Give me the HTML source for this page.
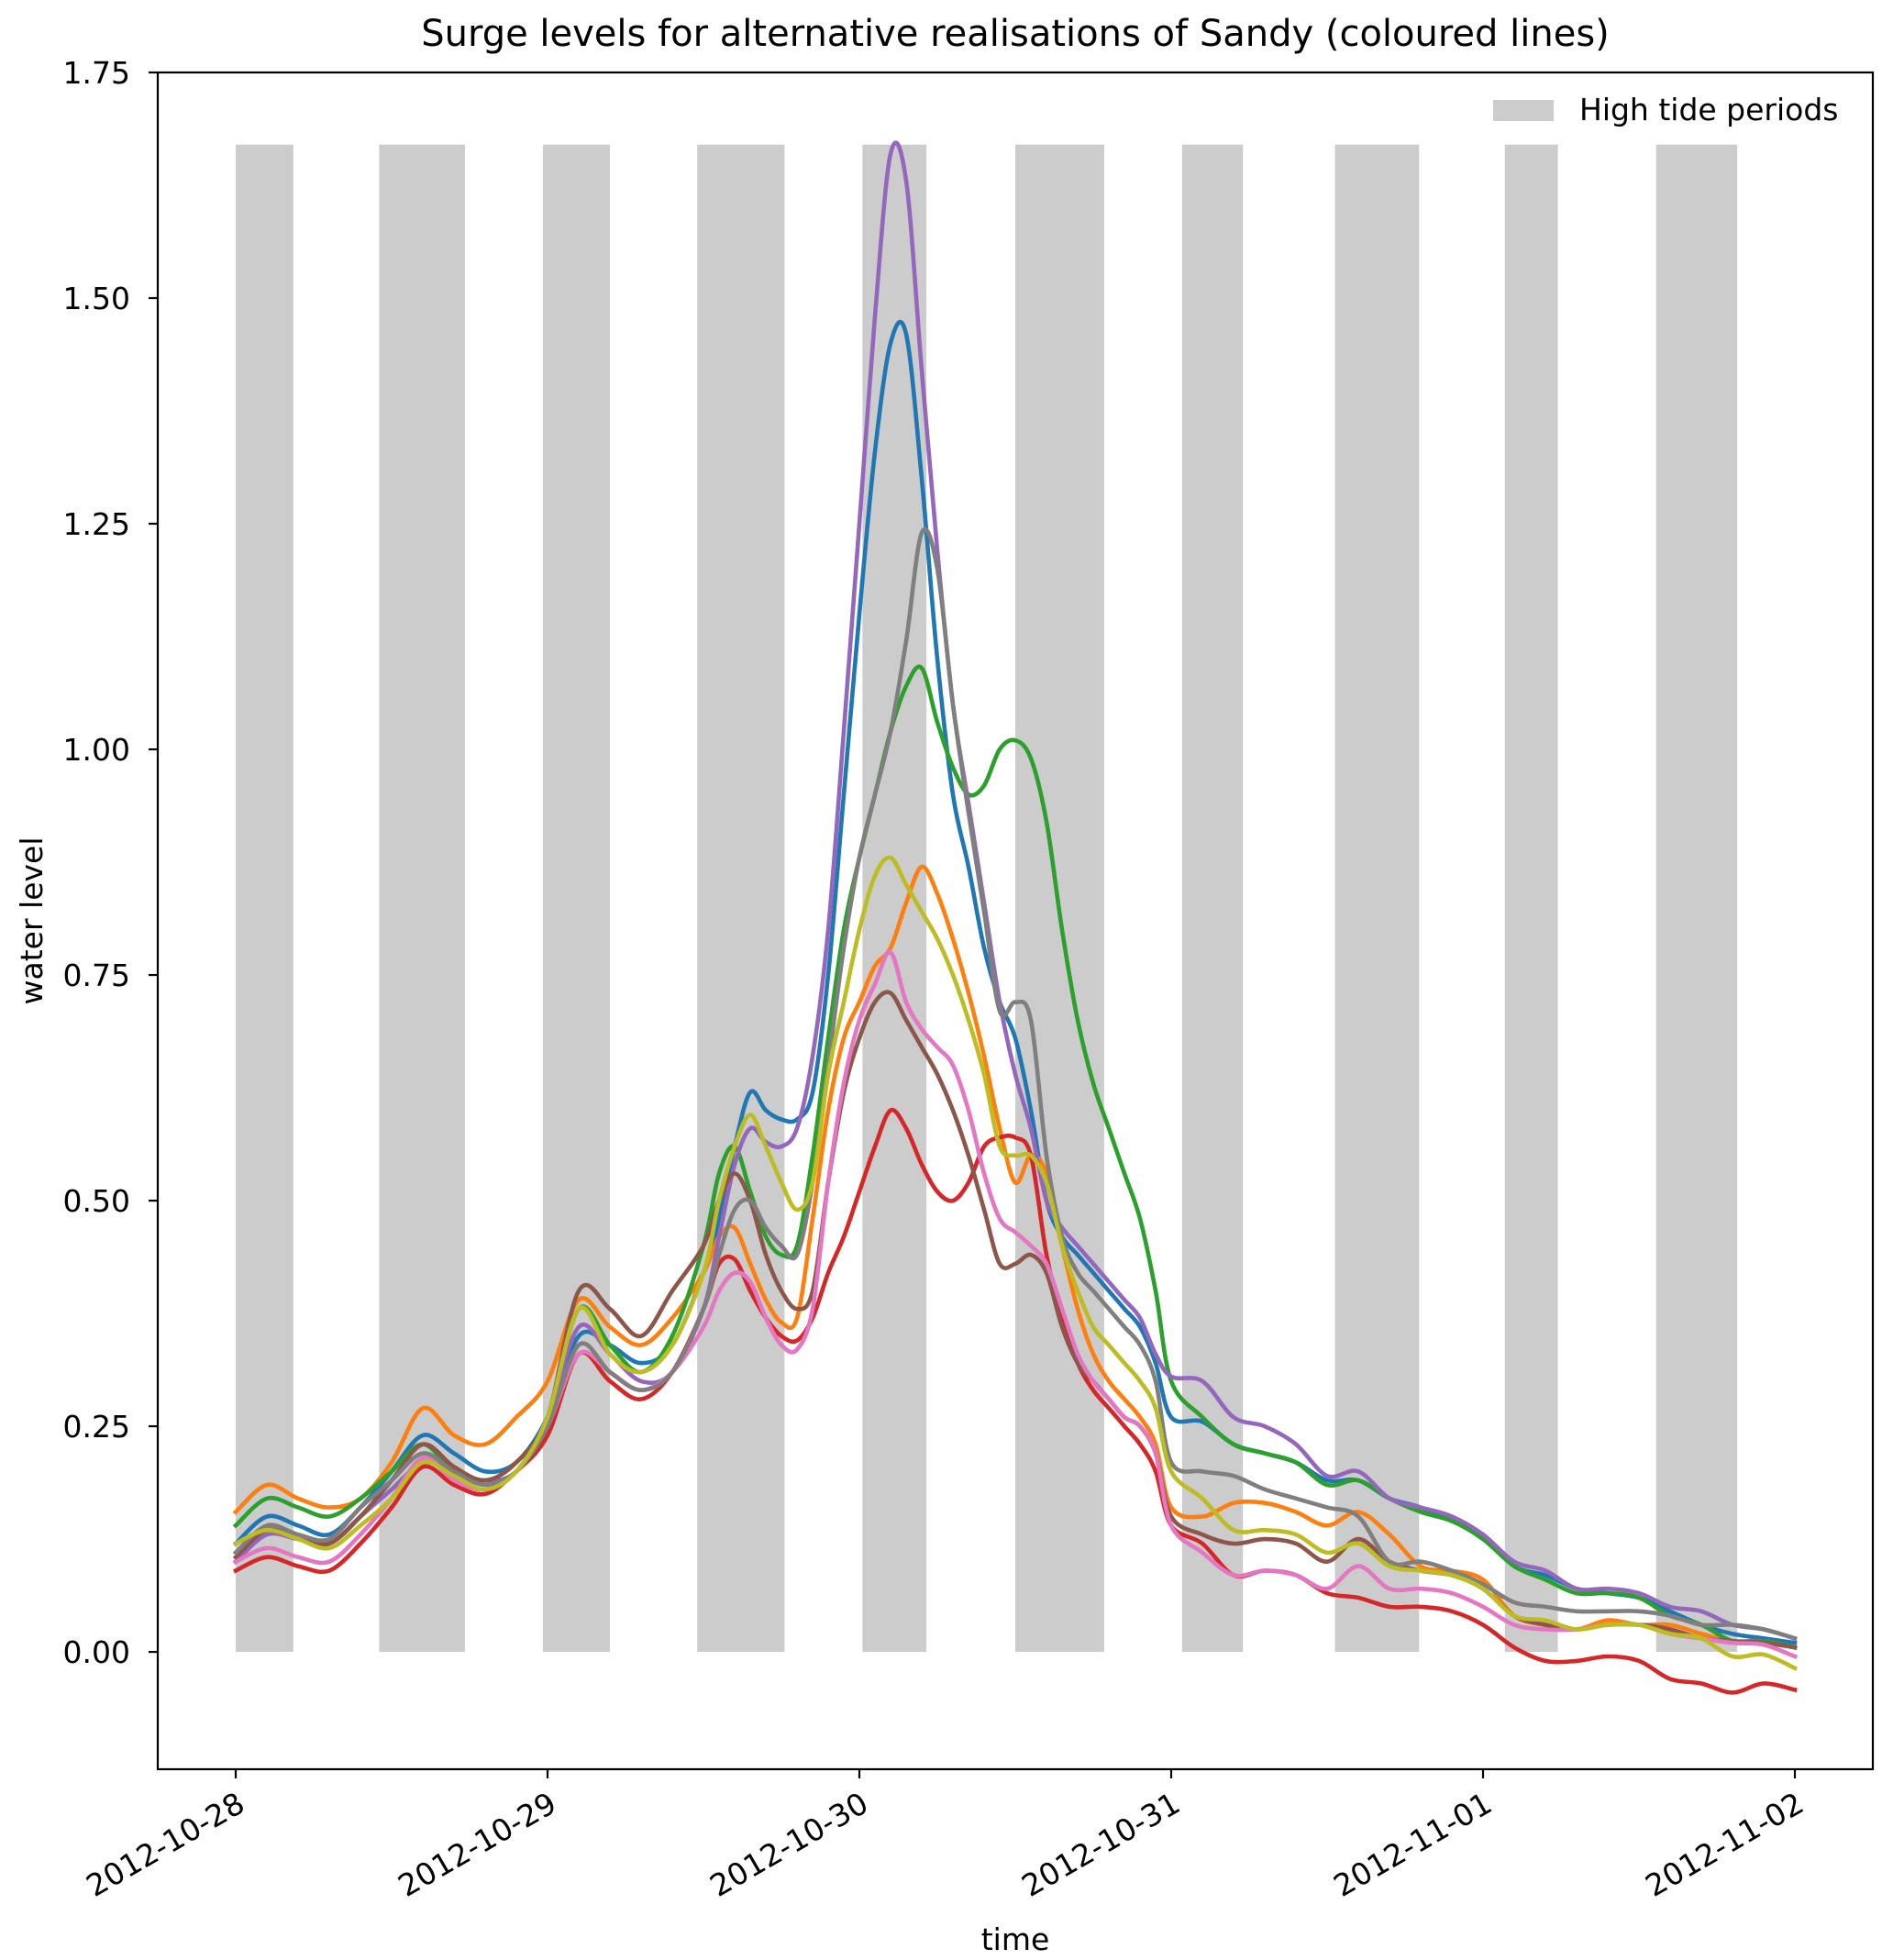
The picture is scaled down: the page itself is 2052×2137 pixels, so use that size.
<!DOCTYPE html>
<html><head><meta charset="utf-8"><style>
html,body{margin:0;padding:0;background:#fff;}
svg{display:block;font-family:"DejaVu Sans","Liberation Sans",sans-serif;}
</style></head><body>
<svg id="chart" width="2052" height="2137" viewBox="0 0 2052 2137" xmlns="http://www.w3.org/2000/svg">
<rect width="2052" height="2137" fill="#fff"/>
<text x="1107" y="50" font-size="40" text-anchor="middle" fill="#000">Surge levels for alternative realisations of Sandy (coloured lines)</text>
<g id="tides"></g>
<g id="series"></g>
<g id="axes"></g>
<rect x="1628" y="109" width="66" height="23" fill="#cccccc"/>
<text x="1722" y="131" font-size="33" fill="#000">High tide periods</text>
<text x="0" y="0" font-size="33" text-anchor="middle" transform="translate(46,1004) rotate(-90)">water level</text>
<text x="1107" y="2126" font-size="33" text-anchor="middle">time</text>
</svg>
<script>
const times=[0,0.1,0.2,0.3,0.4,0.5,0.6,0.7,0.8,0.9,1.0,1.1,1.2,1.3,1.4,1.5,
1.55,1.6,1.65,1.7,1.75,1.8,1.85,1.9,1.95,2.0,2.05,2.1,2.15,2.2,2.25,2.3,2.35,2.4,2.45,2.5,2.55,2.6,2.65,2.7,2.75,2.8,2.85,2.9,2.95,3.0,
3.1,3.2,3.3,3.4,3.5,3.6,3.7,3.8,3.9,4.0,4.1,4.2,4.3,4.4,4.5,4.6,4.7,4.8,4.9,5.0];
const blueVals=[0.12,0.15,0.14,0.13,0.16,0.2,0.24,0.22,0.2,0.21,0.26,0.35,0.34,0.32,0.34,0.42,
0.48,0.56,0.62,0.6,0.59,0.59,0.62,0.75,0.95,1.15,1.33,1.45,1.46,1.3,1.1,0.95,0.87,0.78,0.72,0.68,0.6,0.5,0.46,0.44,0.42,0.4,0.38,0.36,0.32,0.26,
0.255,0.23,0.22,0.21,0.19,0.19,0.17,0.16,0.145,0.13,0.095,0.085,0.07,0.065,0.06,0.045,0.03,0.02,0.015,0.01];
const orangeVals=[0.155,0.185,0.17,0.16,0.17,0.21,0.27,0.24,0.23,0.26,0.3,0.39,0.36,0.34,0.37,0.42,
0.46,0.47,0.43,0.39,0.365,0.37,0.48,0.6,0.68,0.72,0.76,0.78,0.83,0.87,0.84,0.79,0.73,0.66,0.58,0.52,0.55,0.53,0.45,0.38,0.33,0.3,0.28,0.26,0.23,0.16,
0.15,0.165,0.165,0.155,0.14,0.155,0.13,0.095,0.09,0.08,0.04,0.03,0.025,0.035,0.03,0.03,0.02,0.012,0.012,0.005];
const greenVals=[0.14,0.17,0.16,0.15,0.17,0.2,0.23,0.2,0.19,0.2,0.26,0.38,0.34,0.31,0.35,0.45,
0.53,0.56,0.51,0.46,0.44,0.45,0.55,0.68,0.8,0.88,0.95,1.02,1.07,1.09,1.03,0.98,0.95,0.96,1.0,1.01,0.99,0.92,0.8,0.7,0.63,0.58,0.53,0.48,0.4,0.3,
0.26,0.23,0.22,0.21,0.185,0.19,0.17,0.155,0.145,0.125,0.095,0.08,0.065,0.065,0.06,0.04,0.03,0.012,0.012,0.005];
const redVals=[0.09,0.105,0.095,0.09,0.12,0.16,0.205,0.185,0.175,0.2,0.24,0.33,0.3,0.28,0.31,0.38,
0.43,0.435,0.4,0.37,0.35,0.345,0.37,0.42,0.46,0.51,0.56,0.6,0.58,0.54,0.51,0.5,0.52,0.56,0.57,0.57,0.55,0.44,0.37,0.32,0.29,0.27,0.25,0.23,0.2,0.14,
0.12,0.085,0.09,0.085,0.065,0.06,0.05,0.05,0.045,0.03,0.005,-0.01,-0.01,-0.005,-0.01,-0.03,-0.035,-0.045,-0.035,-0.042];
const purpleVals=[0.1,0.13,0.125,0.12,0.15,0.18,0.21,0.2,0.19,0.2,0.26,0.36,0.33,0.3,0.31,0.38,
0.46,0.54,0.58,0.565,0.56,0.58,0.66,0.8,1.02,1.25,1.48,1.66,1.63,1.42,1.22,1.05,0.94,0.83,0.72,0.64,0.58,0.5,0.47,0.45,0.43,0.41,0.39,0.37,0.33,0.305,
0.3,0.26,0.25,0.23,0.195,0.2,0.17,0.16,0.15,0.13,0.1,0.09,0.07,0.07,0.065,0.05,0.045,0.03,0.025,0.015];
const brownVals=[0.105,0.135,0.125,0.12,0.15,0.19,0.23,0.205,0.19,0.21,0.26,0.4,0.38,0.35,0.4,0.45,
0.5,0.53,0.5,0.44,0.4,0.38,0.4,0.52,0.62,0.68,0.72,0.73,0.7,0.67,0.64,0.6,0.55,0.49,0.43,0.43,0.44,0.42,0.36,0.32,0.3,0.28,0.26,0.25,0.22,0.15,
0.13,0.12,0.125,0.12,0.1,0.125,0.1,0.09,0.085,0.07,0.04,0.03,0.025,0.03,0.03,0.025,0.015,0.012,0.01,0.005];
const pinkVals=[0.1,0.115,0.105,0.1,0.13,0.17,0.215,0.19,0.18,0.2,0.25,0.33,0.31,0.29,0.31,0.36,
0.4,0.42,0.41,0.37,0.34,0.335,0.38,0.52,0.63,0.7,0.74,0.775,0.72,0.69,0.67,0.65,0.6,0.53,0.48,0.465,0.45,0.43,0.38,0.33,0.3,0.28,0.26,0.25,0.22,0.14,
0.11,0.085,0.09,0.085,0.07,0.095,0.07,0.07,0.065,0.05,0.03,0.025,0.025,0.03,0.03,0.02,0.015,0.01,0.008,-0.005];
const grayVals=[0.11,0.14,0.13,0.125,0.16,0.19,0.22,0.2,0.185,0.2,0.25,0.34,0.31,0.29,0.31,0.38,
0.44,0.49,0.5,0.47,0.45,0.44,0.52,0.65,0.78,0.88,0.95,1.02,1.12,1.24,1.2,1.05,0.93,0.82,0.71,0.72,0.7,0.55,0.46,0.42,0.4,0.38,0.36,0.34,0.3,0.21,
0.2,0.195,0.18,0.17,0.16,0.15,0.1,0.1,0.09,0.075,0.055,0.05,0.045,0.045,0.045,0.04,0.03,0.03,0.025,0.015];
const oliveVals=[0.12,0.135,0.125,0.115,0.14,0.17,0.21,0.195,0.18,0.2,0.26,0.38,0.33,0.31,0.34,0.42,
0.5,0.56,0.595,0.56,0.52,0.49,0.52,0.64,0.72,0.8,0.86,0.88,0.85,0.82,0.79,0.75,0.7,0.64,0.56,0.55,0.55,0.52,0.45,0.4,0.36,0.34,0.32,0.3,0.27,0.2,
0.17,0.135,0.135,0.13,0.11,0.12,0.095,0.09,0.085,0.07,0.04,0.035,0.025,0.03,0.03,0.02,0.015,-0.005,-0.003,-0.018];
const tideStarts=[0,0.46,0.985,1.48,2.01,2.5,3.035,3.525,4.07,4.555];
const tideEnds=[0.185,0.735,1.2,1.76,2.215,2.785,3.23,3.795,4.24,4.815];
const tideTop=1.67;
const yTicks=[0,0.25,0.5,0.75,1.0,1.25,1.5,1.75];
const yTickLabels=["0.00","0.25","0.50","0.75","1.00","1.25","1.50","1.75"];
const xTicks=[0,1,2,3,4,5];
const xTickLabels=["2012-10-28","2012-10-29","2012-10-30","2012-10-31","2012-11-01","2012-11-02"];

const L=172,R=2042,T=79,B=1929;
const xMin=-0.25,xMax=5.25,yMin=-0.13,yMax=1.75;
function X(t){return L+(t-xMin)/(xMax-xMin)*(R-L);}
function Y(v){return B-(v-yMin)/(yMax-yMin)*(B-T);}
const NS="http://www.w3.org/2000/svg";
function mk(tag,parent){const e=document.createElementNS(NS,tag);parent.appendChild(e);return e;}

const tg=document.getElementById('tides');
tideStarts.forEach((s,i)=>{
  const r=mk('rect',tg);
  
  
  r.setAttribute('x',X(s));r.setAttribute('width',X(tideEnds[i])-X(s));
  r.setAttribute('y',Y(tideTop));r.setAttribute('height',Y(0)-Y(tideTop));
  r.setAttribute('fill','#cccccc');
});

function pathFor(vals){
  const p=times.map((t,i)=>[X(t),Y(vals[i])]);
  let d='M'+p[0][0].toFixed(1)+','+p[0][1].toFixed(1);
  for(let i=0;i<p.length-1;i++){
    const p0=p[Math.max(0,i-1)],p1=p[i],p2=p[i+1],p3=p[Math.min(p.length-1,i+2)];
    const k=1/6;
    const c1=[p1[0]+(p2[0]-p0[0])*k,p1[1]+(p2[1]-p0[1])*k];
    const c2=[p2[0]-(p3[0]-p1[0])*k,p2[1]-(p3[1]-p1[1])*k];
    d+='C'+c1[0].toFixed(1)+','+c1[1].toFixed(1)+' '+c2[0].toFixed(1)+','+c2[1].toFixed(1)+' '+p2[0].toFixed(1)+','+p2[1].toFixed(1);
  }
  return d;
}
const seriesList=[['blue',blueVals,'#1f77b4'],['orange',orangeVals,'#ff7f0e'],['green',greenVals,'#2ca02c'],['red',redVals,'#d62728'],['purple',purpleVals,'#9467bd'],['brown',brownVals,'#8c564b'],['pink',pinkVals,'#e377c2'],['gray',grayVals,'#7f7f7f'],['olive',oliveVals,'#bcbd22']];
const sg=document.getElementById('series');
seriesList.forEach(s=>{
  const p=mk('path',sg);
  
  
  p.setAttribute('d',pathFor(s[1]));
  p.setAttribute('fill','none');p.setAttribute('stroke',s[2]);
  p.setAttribute('stroke-width','4.6');p.setAttribute('stroke-linejoin','round');p.setAttribute('stroke-linecap','square');
});

const ag=document.getElementById('axes');
const frame=mk('rect',ag);


frame.setAttribute('x',L);frame.setAttribute('y',T);frame.setAttribute('width',R-L);frame.setAttribute('height',B-T);
frame.setAttribute('fill','none');frame.setAttribute('stroke','#000');frame.setAttribute('stroke-width','2.2');
yTicks.forEach((v,i)=>{
  const l=mk('line',ag);
  
  
  l.setAttribute('x1',L-10);l.setAttribute('x2',L);l.setAttribute('y1',Y(v));l.setAttribute('y2',Y(v));
  l.setAttribute('stroke','#000');l.setAttribute('stroke-width','2.2');
  const t=mk('text',ag);
  
  
  t.setAttribute('x',L-30);t.setAttribute('y',Y(v)+12);t.setAttribute('text-anchor','end');t.setAttribute('font-size','33');
  t.textContent=yTickLabels[i];
});
xTicks.forEach((v,i)=>{
  const l=mk('line',ag);
  
  
  l.setAttribute('x1',X(v));l.setAttribute('x2',X(v));l.setAttribute('y1',B);l.setAttribute('y2',B+10);
  l.setAttribute('stroke','#000');l.setAttribute('stroke-width','2.2');
  const t=mk('text',ag);
  
  
  const ax=X(v)+12,ay=B+44;
  t.setAttribute('x',ax);t.setAttribute('y',ay);t.setAttribute('text-anchor','end');t.setAttribute('font-size','33');
  t.setAttribute('transform','rotate(-30 '+ax+' '+ay+')');
  t.textContent=xTickLabels[i];
});
</script>
</body></html>
